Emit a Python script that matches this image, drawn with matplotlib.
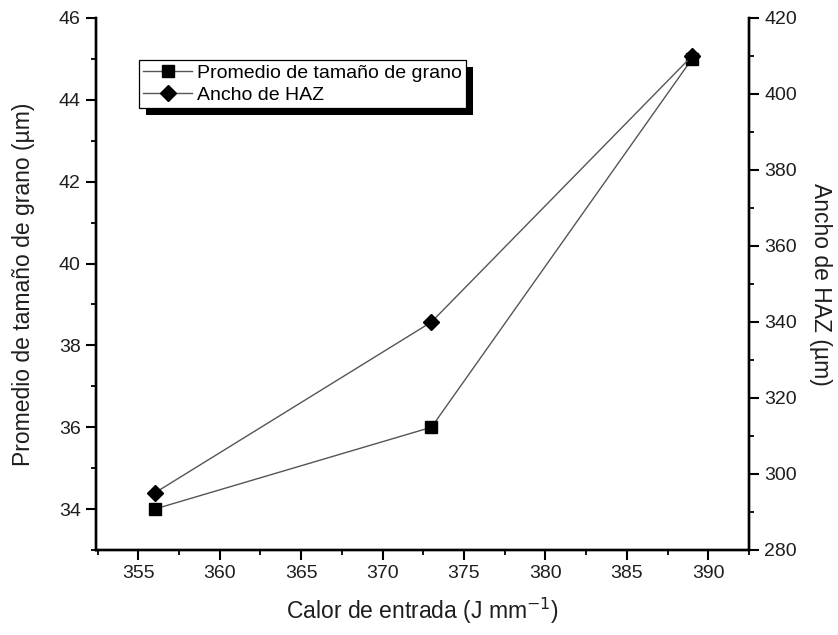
import matplotlib
matplotlib.use("Agg")
import matplotlib.pyplot as plt
from matplotlib.patches import Rectangle
from matplotlib.transforms import IdentityTransform
from matplotlib.ticker import MultipleLocator

plt.rcParams["font.family"] = ["Liberation Sans", "DejaVu Sans"]

# data
heat_input = [356, 373, 389]
grain_size = [34, 36, 45]        # um, left axis
haz_width = [295, 340, 410]      # um, right axis

TEXT = "#1e1e1e"
LINE = "#555555"

fig = plt.figure(figsize=(8.38, 6.35), dpi=100)
ax = fig.add_axes([96 / 838, 1 - 550 / 635, (749 - 96) / 838, (550 - 18) / 635])
ax2 = ax.twinx()

l1, = ax.plot(heat_input, grain_size, color=LINE, lw=1.0, marker="s", ms=8,
              mfc="black", mec="black", label="Promedio de tamaño de grano")
l2, = ax2.plot(heat_input, haz_width, color=LINE, lw=1.0, marker="D", ms=8,
               mfc="black", mec="black", label="Ancho de HAZ")

ax.set_xlim(352.4, 392.5)
ax.set_ylim(33, 46)
ax2.set_ylim(280, 420)

ax.xaxis.set_major_locator(MultipleLocator(5))
ax.xaxis.set_minor_locator(MultipleLocator(2.5))
ax.yaxis.set_major_locator(MultipleLocator(2))
ax.yaxis.set_minor_locator(MultipleLocator(1))
ax2.yaxis.set_major_locator(MultipleLocator(20))
ax2.yaxis.set_minor_locator(MultipleLocator(10))

for a in (ax, ax2):
    a.spines["top"].set_visible(False)
    for s in a.spines.values():
        s.set_linewidth(1.7)
    a.tick_params(which="major", direction="out", length=7, width=1.5, pad=4,
                  labelsize=14, labelcolor=TEXT)
    a.tick_params(which="minor", direction="out", length=3.8, width=1.3)

ax.set_xlabel("Calor de entrada (J mm$^{-1}$)", fontsize=16.5, color=TEXT, labelpad=10)
ax.set_ylabel("Promedio de tamaño de grano (µm)", fontsize=16.5, color=TEXT, labelpad=17)
ax2.set_ylabel("Ancho de HAZ (µm)", fontsize=16.5, color=TEXT, rotation=270, labelpad=25)

leg = ax2.legend(handles=[l1, l2], loc="upper left",
                 bbox_to_anchor=(139 / 838, 1 - 60 / 635), bbox_transform=fig.transFigure,
                 fancybox=False, edgecolor="black", framealpha=1, fontsize=14,
                 handlelength=2.5, handletextpad=0.25, borderpad=0.22, labelspacing=0.22,
                 borderaxespad=0)
leg.get_frame().set_linewidth(0.9)
leg.set_zorder(10)

fig.canvas.draw()
bb = leg.get_window_extent()
shadow = Rectangle((bb.x0 + 7, bb.y0 - 7), bb.width, bb.height, transform=IdentityTransform(),
                   facecolor="black", edgecolor="none", zorder=9, clip_on=False)
ax2.add_artist(shadow)

fig.savefig("out.png", dpi=100)
